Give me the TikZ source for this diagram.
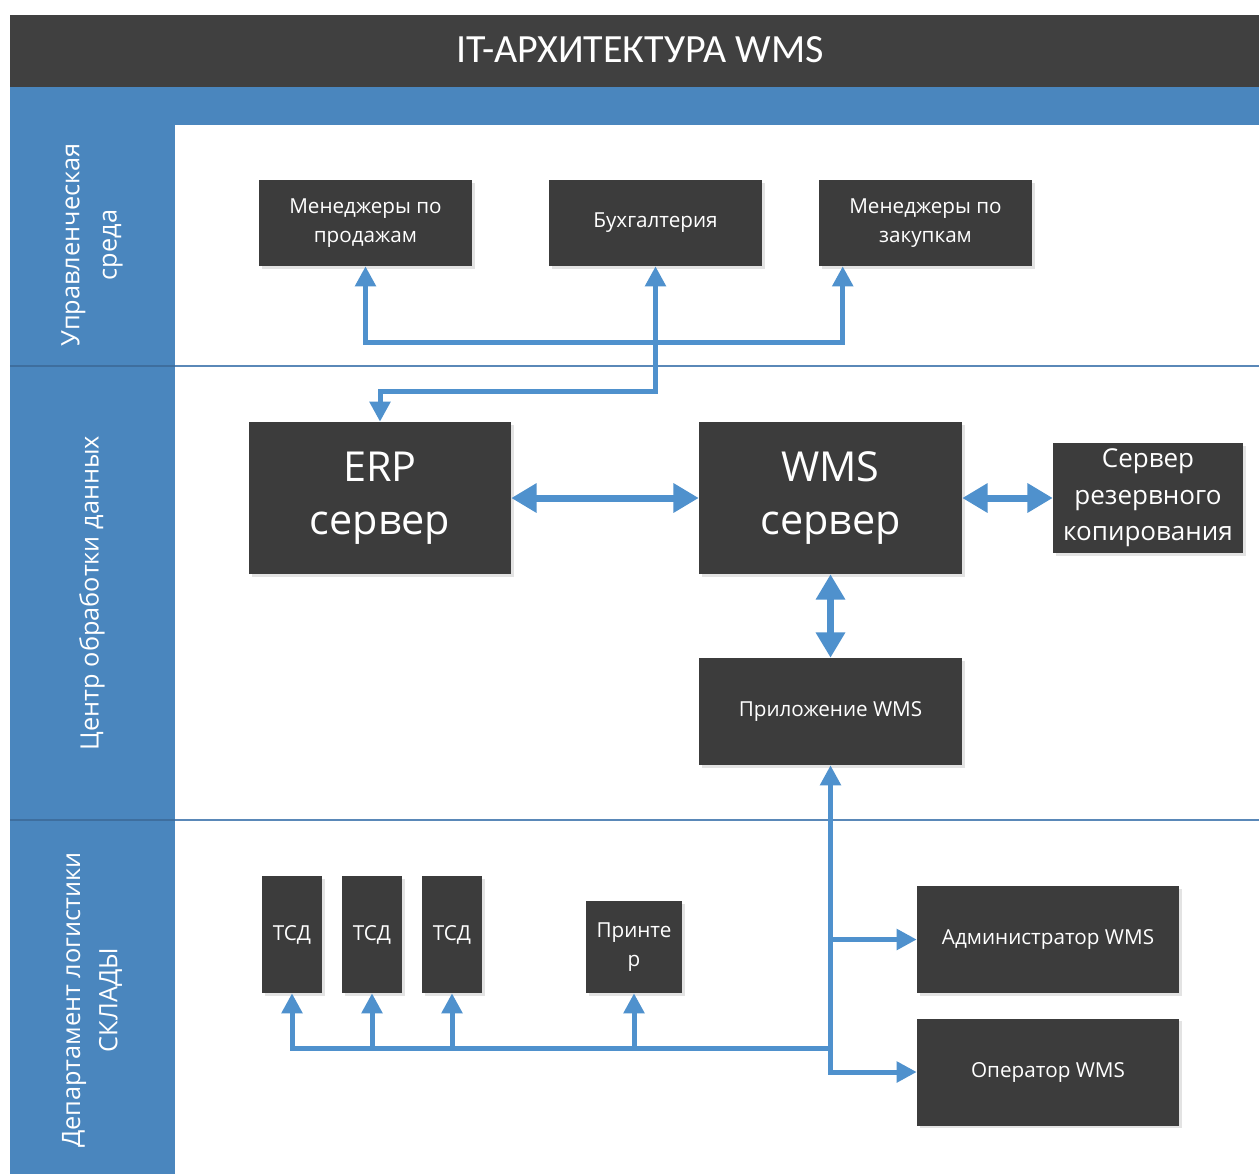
\documentclass[tikz,border=0pt]{standalone}
\usepackage{fontspec}
\setmainfont{Open Sans}
\newfontfamily\titlefont{Carlito}
\usetikzlibrary{arrows.meta,shadows,calc}
\definecolor{boxgray}{HTML}{3C3C3C}
\definecolor{headgray}{HTML}{404040}
\definecolor{laneblue}{HTML}{4A86BE}
\definecolor{arrowblue}{HTML}{4F91CD}
\definecolor{sepline}{HTML}{5A88B8}
\definecolor{sepdark}{HTML}{3E6E9E}
\begin{document}
\begin{tikzpicture}[x=0.75pt,y=-0.75pt,
  ftip/.tip={Triangle[width=15pt,length=15pt]},
  btip/.tip={Triangle[width=21pt,length=19pt]},
  box/.style={fill=boxgray, text=white, inner sep=2pt, align=center,
    drop shadow={opacity=0.22,shadow xshift=2pt,shadow yshift=-2pt}},
  smalltext/.style={font=\fontsize{15.5}{22}\selectfont},
  bigtext/.style={font=\fontsize{31}{40}\selectfont},
  midtext/.style={font=\fontsize{19.5}{27.5}\selectfont},
  lanelabel/.style={rotate=90, text=white, align=center, font=\fontsize{19}{28}\selectfont},
  flow/.style={draw=arrowblue, line width=3.75pt},
  bigflow/.style={draw=arrowblue, line width=5.25pt}
]
\useasboundingbox (0,0) rectangle (1259,1174);
\fill[white] (0,0) rectangle (1259,1174);
% header and lanes
\fill[headgray] (10,15) rectangle (1259,87);
\fill[laneblue] (10,87) rectangle (1259,125);
\fill[laneblue] (10,125) rectangle (175,1174);
\draw[sepline, line width=1.5pt] (175,366) -- (1259,366);
\draw[sepline, line width=1.5pt] (175,820) -- (1259,820);
\draw[sepdark, line width=1.5pt] (10,366) -- (175,366);
\draw[sepdark, line width=1.5pt] (10,820) -- (175,820);
\node[text=white, font=\titlefont\fontsize{30}{36}\selectfont] (title) at (640,50) {IT-АРХИТЕКТУРА WMS};
% lane labels
\node[lanelabel] (l1) at (92,245) {Управленческая\\среда};
\node[lanelabel] (l2) at (92,593) {Центр обработки данных};
\node[lanelabel] (l3) at (92,1000) {Департамент логистики\\СКЛАДЫ};
% boxes
\node[box, smalltext, minimum width=159.75pt, minimum height=64.5pt] (sales) at (365.5,223) {Менеджеры по\\продажам};
\node[box, smalltext, minimum width=159.75pt, minimum height=64.5pt] (buh) at (655.5,223) {Бухгалтерия};
\node[box, smalltext, minimum width=159.75pt, minimum height=64.5pt] (purch) at (925.5,223) {Менеджеры по\\закупкам};
\node[box, bigtext, minimum width=196.5pt, minimum height=114pt] (erp) at (380,498) {ERP\\сервер};
\node[box, bigtext, minimum width=197.25pt, minimum height=114pt] (wms) at (830.5,498) {WMS\\сервер};
\node[box, midtext, minimum width=142.5pt, minimum height=82.5pt] (backup) at (1148,498) {Сервер\\резервного\\копирования};
\node[box, smalltext, minimum width=197.25pt, minimum height=80.25pt] (app) at (830.5,711.5) {Приложение WMS};
\node[box, smalltext, minimum width=45pt, minimum height=87.75pt] (tsd1) at (292,934.5) {ТСД};
\node[box, smalltext, minimum width=45pt, minimum height=87.75pt] (tsd2) at (372,934.5) {ТСД};
\node[box, smalltext, minimum width=45pt, minimum height=87.75pt] (tsd3) at (452,934.5) {ТСД};
\node[box, smalltext, minimum width=72pt, minimum height=69pt] (printer) at (634,947) {Принте\\р};
\node[box, smalltext, minimum width=196.5pt, minimum height=80.25pt] (admin) at (1048,939.5) {Администратор WMS};
\node[box, smalltext, minimum width=196.5pt, minimum height=80.25pt] (oper) at (1048,1072) {Оператор WMS};
% connectors, top lane
\draw[flow, ftip-ftip] (sales.south) -- ++(0,76) -| ($(purch.south west)+(24,0)$);
\draw[flow, ftip-ftip] (erp.north) -- ++(0,-30) -| (buh.south);
% data centre
\draw[bigflow, btip-btip] (erp.east) -- (wms.west);
\draw[bigflow, btip-btip] (wms.east) -- (backup.west);
\draw[bigflow, btip-btip] (wms.south) -- (app.north);
% warehouse
\draw[flow, ftip-ftip] (app.south) -- (app.south |- oper.west) -- (oper.west);
\draw[flow, -ftip] (app.south |- admin.west) -- (admin.west);
\coordinate (busl) at ($(tsd1.south)+(0,55)$);
\draw[flow, ftip-] (tsd1.south) -- (busl) -- (busl -| app.south);
\draw[flow, -ftip] (tsd2.south |- busl) -- (tsd2.south);
\draw[flow, -ftip] (tsd3.south |- busl) -- (tsd3.south);
\draw[flow, -ftip] (printer.south |- busl) -- (printer.south);
\end{tikzpicture}
\end{document}
